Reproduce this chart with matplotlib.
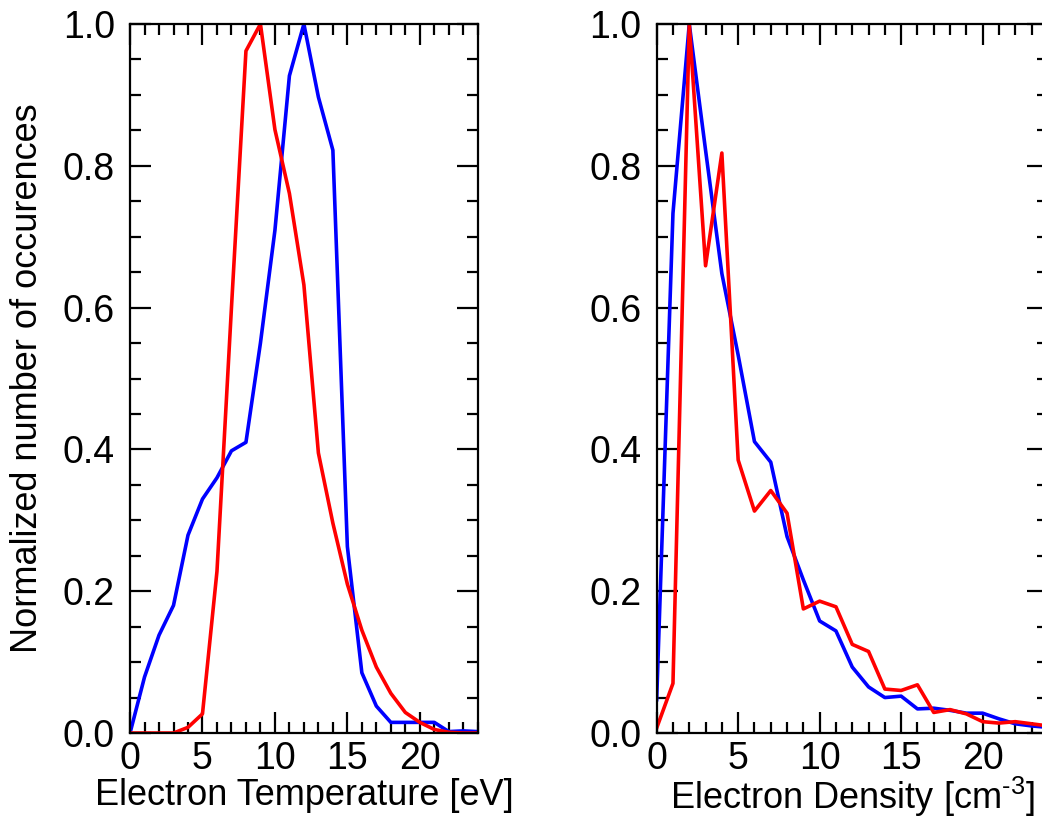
import numpy as np
import matplotlib
matplotlib.use("Agg")
import matplotlib.pyplot as plt
from matplotlib.ticker import MultipleLocator

plt.rcParams["font.family"] = ["Liberation Sans", "DejaVu Sans"]

# bin centres (same for both panels)
bins = np.arange(0, 25)

# electron temperature histograms (normalized)
temp_blue = [0.0, 0.079, 0.138, 0.18, 0.279, 0.33, 0.36, 0.398, 0.41, 0.55,
             0.709, 0.927, 1.0, 0.897, 0.822, 0.263, 0.085, 0.038, 0.015, 0.015,
             0.015, 0.015, 0.002, 0.003, 0.002]
temp_red = [0.0, 0.0, 0.0, 0.0, 0.008, 0.027, 0.228, 0.6, 0.962, 1.0,
            0.851, 0.761, 0.632, 0.395, 0.296, 0.21, 0.145, 0.093, 0.056, 0.029,
            0.015, 0.005, 0.001, 0.0, 0.0]

# electron density histograms (normalized)
dens_blue = [0.047, 0.733, 1.0, 0.822, 0.648, 0.533, 0.411, 0.382, 0.277, 0.216,
             0.158, 0.144, 0.093, 0.065, 0.05, 0.052, 0.034, 0.035, 0.032, 0.028,
             0.028, 0.02, 0.013, 0.01, 0.008]
dens_red = [0.007, 0.07, 1.0, 0.659, 0.818, 0.385, 0.313, 0.342, 0.31, 0.175,
            0.186, 0.178, 0.125, 0.115, 0.062, 0.06, 0.068, 0.029, 0.033, 0.027,
            0.016, 0.014, 0.016, 0.013, 0.01]

fig = plt.figure(figsize=(10.42, 8.16), dpi=100)
ax1 = fig.add_axes([0.1248, 0.1017, 0.3337, 0.8689])
ax2 = fig.add_axes([0.6302, 0.1017, 0.3754, 0.8689])


def style(ax, xlabel, label_y):
    ax.set_xlim(0, 24)
    ax.set_ylim(0, 1)
    ax.xaxis.set_major_locator(MultipleLocator(5))
    ax.xaxis.set_minor_locator(MultipleLocator(1))
    ax.yaxis.set_major_locator(MultipleLocator(0.2))
    ax.yaxis.set_minor_locator(MultipleLocator(0.05))
    ax.yaxis.set_major_formatter(plt.FormatStrFormatter("%.1f"))
    ax.tick_params(which="both", direction="in", top=True, right=True,
                   width=1.6, labelsize=27)
    ax.tick_params(axis="x", pad=6)
    ax.tick_params(axis="y", pad=11)
    ax.tick_params(which="major", length=15)
    ax.tick_params(which="minor", length=8)
    for s in ax.spines.values():
        s.set_linewidth(1.6)
    ax.set_xlabel(xlabel, fontsize=26, va="baseline")
    ax.xaxis.set_label_coords(0.5, label_y)


ax1.plot(bins, temp_blue, color="#0000ff", lw=2.6)
ax1.plot(bins, temp_red, color="#ff0000", lw=2.6)
style(ax1, "Electron Temperature [eV]", -0.102)
ax1.set_ylabel("Normalized number of occurences", fontsize=26, va="center")
ax1.yaxis.set_label_coords(-0.296, 0.5)

ax2.plot(bins, dens_blue, color="#0000ff", lw=2.6)
ax2.plot(bins, dens_red, color="#ff0000", lw=2.6)
style(ax2, "Electron Density [cm$^{\\mathregular{\u20103}}$]", -0.107)

fig.savefig("out.png", dpi=100)
